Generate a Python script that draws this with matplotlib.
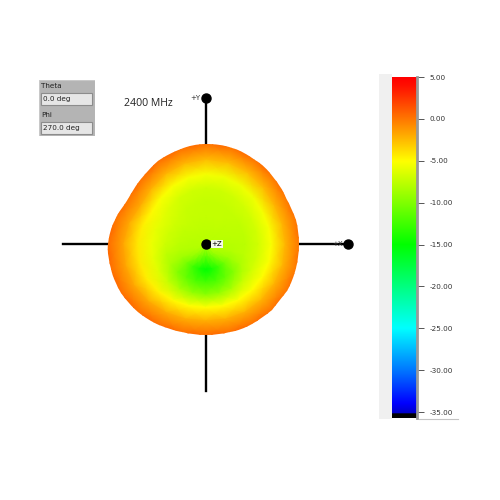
import numpy as np
import matplotlib
matplotlib.use('Agg')
import matplotlib.pyplot as plt
from matplotlib.colors import LinearSegmentedColormap
from matplotlib.patches import Rectangle, PathPatch
from matplotlib.path import Path

# ---------- data ----------
freq_label = '2400 MHz'
theta_text = '0.0 deg'
phi_text = '270.0 deg'

angles_deg = np.arange(0, 360, 15)
# outer edge of the pattern for each angle
edge_radius = [93.3, 92.8, 92.8, 95, 97.5, 99.5, 100, 98.5, 95.5, 92, 90, 94.5,
               98, 98.5, 98, 96, 93.5, 91.5, 90.5, 91.5, 92.5, 92.8, 93, 93.5]
radial_frac = [0, .14, .28, .42, .56, .7, .85, 1]
# gain in dB, one row per angle, one column per radial_frac
gain_db = [
    [-7.8, -7.8, -7.8, -7.7, -6.8, -5.2, -2.3, 1.0],
    [-7.8, -7.8, -7.7, -7.6, -6.8, -5.3, -2.3, 1.0],
    [-7.8, -7.7, -7.6, -7.5, -6.8, -5.4, -2.3, 1.0],
    [-7.8, -7.7, -7.5, -7.4, -6.8, -5.6, -2.4, 1.1],
    [-7.8, -7.6, -7.4, -7.4, -6.9, -5.6, -2.5, 1.2],
    [-7.8, -7.6, -7.4, -7.4, -7.0, -5.6, -2.5, 1.2],
    [-7.8, -7.6, -7.4, -7.4, -7.0, -5.4, -2.4, 1.2],
    [-7.8, -7.6, -7.4, -7.3, -6.9, -5.3, -2.3, 1.2],
    [-7.8, -7.6, -7.4, -7.2, -6.7, -5.2, -2.2, 1.2],
    [-7.8, -7.7, -7.4, -7.0, -6.4, -5.2, -2.1, 1.2],
    [-7.8, -7.7, -7.5, -6.9, -6.1, -4.8, -1.9, 1.0],
    [-7.8, -7.8, -7.5, -6.9, -5.9, -4.4, -1.7, 1.1],
    [-7.8, -7.9, -7.7, -7.0, -5.7, -4.2, -1.6, 1.2],
    [-7.8, -8.0, -8.0, -7.6, -5.9, -4.2, -1.6, 1.2],
    [-7.8, -8.3, -8.9, -8.3, -6.3, -4.4, -1.7, 1.2],
    [-7.8, -8.9, -10.5, -9.8, -7.2, -4.6, -1.8, 1.2],
    [-7.8, -9.9, -12.5, -11.0, -8.2, -4.8, -1.9, 1.2],
    [-7.8, -10.8, -14.0, -12.0, -9.0, -5.0, -2.0, 1.2],
    [-7.8, -11.5, -15.0, -12.3, -9.5, -5.0, -2.0, 1.2],
    [-7.8, -10.8, -14.0, -12.0, -9.0, -5.0, -2.0, 1.2],
    [-7.8, -9.9, -12.5, -11.0, -8.2, -5.0, -2.1, 1.2],
    [-7.8, -8.9, -10.5, -9.8, -7.2, -5.0, -2.2, 1.1],
    [-7.8, -8.3, -8.9, -8.3, -6.9, -5.0, -2.2, 1.0],
    [-7.8, -8.0, -8.0, -7.7, -6.8, -5.1, -2.3, 1.0],
]

axis_left, axis_right, axis_up, axis_down = 143, 142, 146, 147

scale_ticks = [5, 0, -5, -10, -15, -20, -25, -30, -35]
scale_labels = ['5.00', '0.00', '-5.00', '-10.00', '-15.00', '-20.00',
                '-25.00', '-30.00', '-35.00']
scale_top, scale_bottom = 5.0, -35.7

# colour stops of the scale (dB, colour)
cmap_db = [-35.7, -35.2, -35.15, -34, -30, -25, -15, -5, 0, 4, 5]
cmap_colors = ['#000000', '#000000', '#0000c8', '#0000ff', '#0078ff', '#00ffff',
               '#00ff00', '#ffff00', '#ff7800', '#ff1000', '#ff0000']

# ---------- colormap ----------
pos = [(v - scale_bottom) / (scale_top - scale_bottom) for v in cmap_db]
cmap = LinearSegmentedColormap.from_list('gain', list(zip(pos, cmap_colors)), N=512)

plt.rcParams['font.family'] = ['DejaVu Sans']
W = 500
fig = plt.figure(figsize=(5, 5), dpi=100, facecolor='white')


def px_axes(x0, y0, x1, y1, **kw):
    # axes given in picture pixels, y going down
    return fig.add_axes([x0 / W, 1 - y1 / W, (x1 - x0) / W, (y1 - y0) / W], **kw)


def smooth_outline(xs, ys):
    # closed Catmull-Rom curve through the edge points, as Bezier segments
    n = len(xs)
    pts = np.column_stack([xs, ys])
    verts = [pts[0]]
    codes = [Path.MOVETO]
    for i in range(n):
        p0, p1, p2, p3 = pts[i - 1], pts[i], pts[(i + 1) % n], pts[(i + 2) % n]
        verts += [p1 + (p2 - p0) / 6, p2 - (p3 - p1) / 6, p2]
        codes += [Path.CURVE4] * 3
    return Path(verts, codes)


# ---------- pattern ----------
cx, cy = 206, 244
ax = px_axes(0, 0, W, W)
ax.set_xlim(-cx, W - cx)
ax.set_ylim(cy - W, cy)
ax.set_aspect('equal')
ax.axis('off')

ax.plot([-axis_left, axis_right], [0, 0], color='black', lw=1.7, zorder=1)
ax.plot([0, 0], [-axis_down, axis_up], color='black', lw=1.7, zorder=1)

th = np.radians(np.append(angles_deg, 360))
rad = np.append(edge_radius, edge_radius[0])
table = np.array(gain_db)
table = np.vstack([table, table[0]])
frac = np.array(radial_frac)
# mesh runs a little past the edge, the smooth outline trims it
X = np.outer(rad * np.cos(th), frac * np.where(frac == 1, 1.06, 1))
Y = np.outer(rad * np.sin(th), frac * np.where(frac == 1, 1.06, 1))
mesh = ax.pcolormesh(X, Y, table, cmap=cmap, vmin=scale_bottom, vmax=scale_top,
                     shading='gouraud', zorder=2)
outline = PathPatch(smooth_outline(rad[:-1] * np.cos(th[:-1]), rad[:-1] * np.sin(th[:-1])),
                    transform=ax.transData, fc='none', ec='none')
ax.add_patch(outline)
mesh.set_clip_path(outline)

ax.plot([0, axis_right, 0], [0, 0, axis_up], 'o', color='black', ms=6.5, zorder=3)
ax.text(5.5, -0.3, '+Z', fontsize=5, va='center', ha='left', zorder=3,
        bbox=dict(fc='#f4f8e8', ec='none', pad=0.6))
ax.text(axis_right - 5, -0.3, '+X', fontsize=5, va='center', ha='right', zorder=3,
        color='#333333')
ax.text(-6, axis_up, '+Y', fontsize=5, va='center', ha='right', zorder=3, color='#333333')

ax.text(124 - cx, cy - 103, freq_label, family='Open Sans', fontsize=7.6,
        color='#222222', va='center', ha='left')

# ---------- theta / phi panel ----------
panel = px_axes(39, 80, 95, 136)
panel.set_xlim(39, 95)
panel.set_ylim(136, 80)
panel.axis('off')
panel.add_patch(Rectangle((39, 80), 56, 56, fc='#b4b4b4', ec='#c8c8c8', lw=0.8))
for y0, label, val in [(93, 'Theta', theta_text), (122, 'Phi', phi_text)]:
    panel.text(41, y0 - 7, label, fontsize=5.2, color='#222222', va='center')
    panel.add_patch(Rectangle((41, y0), 51, 11.5, fc='#e6e6e6', ec='#8c8c8c', lw=0.8))
    panel.text(43, y0 + 6, val, fontsize=5.2, color='#222222', va='center')

# ---------- colour scale ----------
bg = px_axes(379, 74, 392, 419)
bg.set_xticks([])
bg.set_yticks([])
bg.set_facecolor('#f0f0f0')
for s in bg.spines.values():
    s.set_visible(False)

cax = px_axes(392, 77, 417, 418)
grad = np.linspace(scale_top, scale_bottom, 800).reshape(-1, 1)
cax.imshow(grad, aspect='auto', cmap=cmap, vmin=scale_bottom, vmax=scale_top,
           extent=[0, 1, scale_bottom, scale_top])
cax.set_xticks([])
cax.yaxis.tick_right()
cax.set_yticks(scale_ticks)
cax.set_yticklabels(scale_labels, fontsize=5.2, color='#333333')
cax.tick_params(axis='y', length=5, width=0.7, pad=4, color='#555555')
for name, s in cax.spines.items():
    s.set_visible(name == 'right')
cax.spines['right'].set_color('#9a9a9a')
cax.spines['right'].set_linewidth(2)

fig.add_artist(plt.Line2D([419 / W, 458 / W], [1 - 418.5 / W] * 2,
                          color='#c4c4c4', lw=0.8))

fig.savefig('out.png', dpi=100)
